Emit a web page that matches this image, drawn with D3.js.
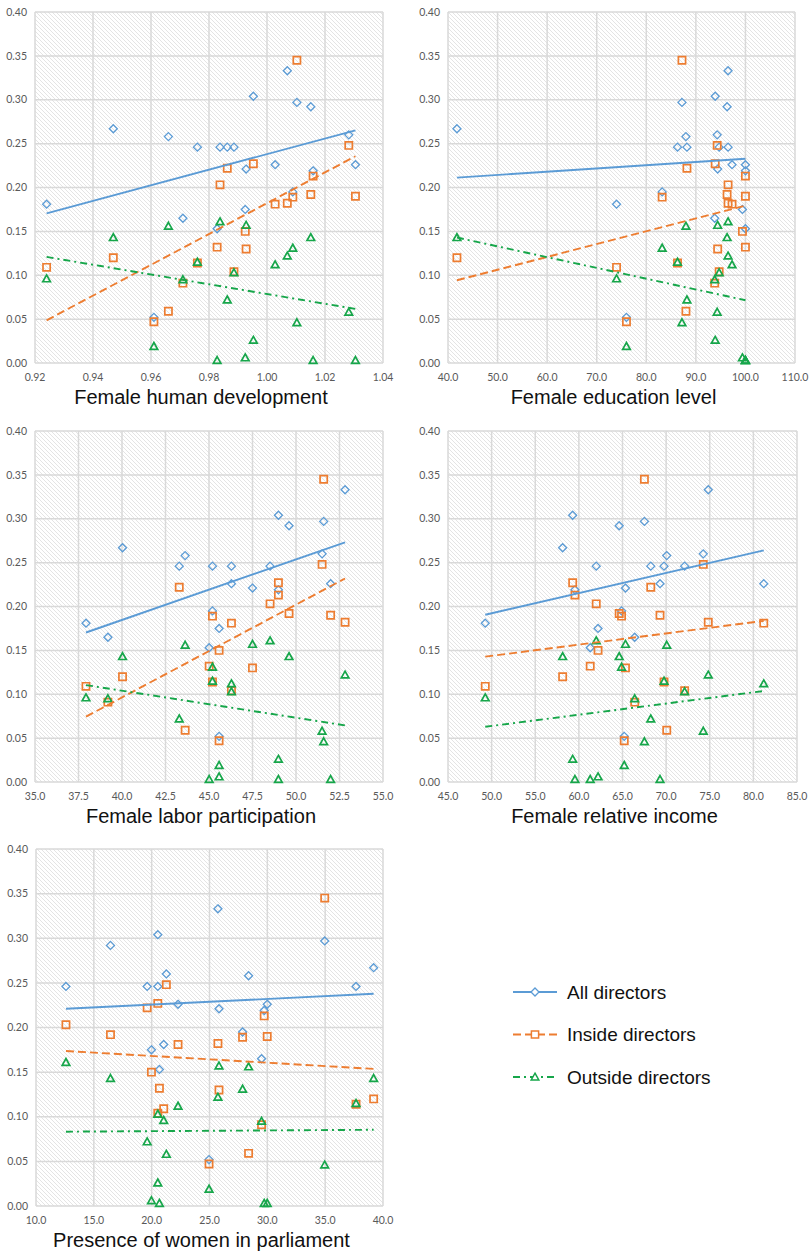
<!DOCTYPE html>
<html>
<head>
<meta charset="utf-8">
<script src="https://cdn.jsdelivr.net/npm/d3@7/dist/d3.min.js"></script>
<style>
  html, body { margin: 0; padding: 0; background: #fff; }
  svg { display: block; }
  .tick-label { font-family: Lato, "Open Sans", sans-serif; font-size: 10.5px; fill: #595959; }
  .axis-title { font-family: "Liberation Sans", Arial, sans-serif; font-size: 20px; fill: #111; }
  .legend-text { font-family: "Liberation Sans", Arial, sans-serif; font-size: 19px; fill: #111; }
</style>
</head>
<body>
<svg id="chart" width="812" height="1258"></svg>
<script>
// Director ratios per country (21 countries)
var allDirectors     = [0.181, 0.267, 0.052, 0.258, 0.165, 0.246, 0.153, 0.246, 0.246, 0.246, 0.175,
                        0.221, 0.304, 0.226, 0.333, 0.195, 0.297, 0.292, 0.219, 0.260, 0.226];
var insideDirectors  = [0.109, 0.120, 0.047, 0.059, 0.091, 0.114, 0.132, 0.203, 0.222, 0.104, 0.150,
                        0.130, 0.227, 0.181, 0.182, 0.189, 0.345, 0.192, 0.213, 0.248, 0.190];
var outsideDirectors = [0.096, 0.143, 0.019, 0.156, 0.095, 0.115, 0.003, 0.161, 0.072, 0.103, 0.006,
                        0.157, 0.026, 0.112, 0.122, 0.131, 0.046, 0.143, 0.003, 0.058, 0.003];

// Country indicators (same country order)
var humanDev   = [0.924, 0.947, 0.961, 0.966, 0.971, 0.976, 0.9828, 0.9838, 0.9863, 0.9886, 0.9925,
                  0.9928, 0.9953, 1.0028, 1.007, 1.0089, 1.0103, 1.0151, 1.0159, 1.0282, 1.0305];
var education  = [74.0, 41.8, 76.0, 88.0, 93.8, 86.3, 100.0, 96.5, 88.2, 94.7, 99.4,
                  94.4, 93.9, 97.3, 96.5, 83.2, 87.2, 96.3, 100.0, 94.3, 100.0];
var laborPart  = [37.93, 40.03, 45.58, 43.63, 39.19, 45.2, 45.01, 48.51, 43.29, 46.29, 45.58,
                  47.5, 48.99, 46.29, 52.82, 45.2, 51.59, 49.6, 48.99, 51.5, 51.99];
var relIncome  = [49.27, 58.14, 65.2, 70.07, 66.4, 69.76, 61.3, 61.99, 68.24, 72.12, 62.2,
                  65.34, 59.29, 81.19, 74.83, 64.89, 67.51, 64.62, 59.55, 74.26, 69.3];
var parliament = [21.04, 39.19, 24.96, 28.38, 29.5, 37.67, 20.67, 12.59, 19.61, 20.53, 19.98,
                  25.82, 20.53, 22.28, 25.73, 27.86, 34.96, 16.44, 29.73, 21.27, 29.99];

var yTicks = [0, 0.05, 0.10, 0.15, 0.20, 0.25, 0.30, 0.35, 0.40];
var seriesNames = ["All directors", "Inside directors", "Outside directors"];

var panels = [
  { x: humanDev,   title: "Female human development",        domain: [0.92, 1.04], step: 0.02, fmt: ".2f", box: [35, 383, 12, 363] },
  { x: education,  title: "Female education level",          domain: [40, 110],    step: 10,   fmt: ".1f", box: [448, 795, 12, 363] },
  { x: laborPart,  title: "Female labor participation",      domain: [35, 55],     step: 2.5,  fmt: ".1f", box: [35, 383, 431, 782] },
  { x: relIncome,  title: "Female relative income",          domain: [45, 85],     step: 5,    fmt: ".1f", box: [448, 797, 431, 782] },
  { x: parliament, title: "Presence of women in parliament", domain: [10, 40],     step: 5,    fmt: ".1f", box: [36, 383, 849, 1206] }
];

var series = [
  { name: seriesNames[0], y: allDirectors,     color: "#5b9bd5", dash: null,      shape: "diamond" },
  { name: seriesNames[1], y: insideDirectors,  color: "#ed7d31", dash: "8,4",     shape: "square" },
  { name: seriesNames[2], y: outsideDirectors, color: "#16a64a", dash: "7,4,2,4", shape: "triangle" }
];

var svg = d3.select("#chart");

// hatched plot background
var defs = svg.append("defs");
var pat = defs.append("pattern")
  .attr("id", "hatch").attr("patternUnits", "userSpaceOnUse")
  .attr("width", 4).attr("height", 4);
pat.append("rect").attr("width", 4).attr("height", 4).attr("fill", "#fff");
pat.append("path").attr("d", "M-1,-1 L5,5 M3,-1 L5,1 M-1,3 L1,5")
  .attr("stroke", "#dddddd").attr("stroke-width", 0.8);

function markerPath(shape) {
  if (shape === "diamond") return "M0,-4 L4,0 L0,4 L-4,0Z";
  if (shape === "square") return "M-3.6,-3.6 H3.6 V3.6 H-3.6Z";
  return "M0,-3.8 L3.8,3 L-3.8,3Z";
}

function linearFit(xs, ys) {
  var mx = d3.mean(xs), my = d3.mean(ys);
  var num = 0, den = 0;
  xs.forEach(function (x, i) { num += (x - mx) * (ys[i] - my); den += (x - mx) * (x - mx); });
  var b = num / den;
  return { a: my - b * mx, b: b };
}

function drawPanel(p) {
  var left = p.box[0], right = p.box[1], top = p.box[2], bottom = p.box[3];
  var x = d3.scaleLinear().domain(p.domain).range([left, right]);
  var y = d3.scaleLinear().domain([0, 0.4]).range([bottom, top]);
  var xTicks = d3.range(p.domain[0], p.domain[1] + p.step / 2, p.step);
  var g = svg.append("g");

  g.append("rect")
    .attr("x", left).attr("y", top)
    .attr("width", right - left).attr("height", bottom - top)
    .attr("fill", "url(#hatch)");

  // grid
  g.selectAll(".gx").data(xTicks).join("line")
    .attr("x1", function (d) { return x(d); }).attr("x2", function (d) { return x(d); })
    .attr("y1", top).attr("y2", bottom)
    .attr("stroke", "#d9d9d9").attr("stroke-width", 1.5);
  g.selectAll(".gy").data(yTicks).join("line")
    .attr("x1", left).attr("x2", right)
    .attr("y1", function (d) { return y(d); }).attr("y2", function (d) { return y(d); })
    .attr("stroke", "#d9d9d9").attr("stroke-width", 1.5);

  // tick labels
  var fx = d3.format(p.fmt);
  g.selectAll(".lx").data(xTicks).join("text")
    .attr("class", "tick-label")
    .attr("x", function (d) { return x(d); })
    .attr("y", bottom + 18)
    .attr("text-anchor", "middle")
    .text(function (d) { return fx(d); });
  g.selectAll(".ly").data(yTicks).join("text")
    .attr("class", "tick-label")
    .attr("x", left - 8)
    .attr("y", function (d) { return y(d); })
    .attr("dy", "0.35em")
    .attr("text-anchor", "end")
    .text(function (d) { return d3.format(".2f")(d); });

  g.append("text")
    .attr("class", "axis-title")
    .attr("x", (left + right) / 2 - 8)
    .attr("y", bottom + 41)
    .attr("text-anchor", "middle")
    .text(p.title);

  // markers
  series.forEach(function (s) {
    g.append("g").selectAll("path")
      .data(p.x.map(function (xv, i) { return [xv, s.y[i]]; }))
      .join("path")
      .attr("d", markerPath(s.shape))
      .attr("transform", function (d) { return "translate(" + x(d[0]) + "," + y(d[1]) + ")"; })
      .attr("fill", "none")
      .attr("stroke", s.color)
      .attr("stroke-width", s.shape === "diamond" ? 1.3 : 1.7);
  });

  // linear trendlines
  var xMin = d3.min(p.x), xMax = d3.max(p.x);
  series.forEach(function (s) {
    var fit = linearFit(p.x, s.y);
    g.append("line")
      .attr("x1", x(xMin)).attr("y1", y(fit.a + fit.b * xMin))
      .attr("x2", x(xMax)).attr("y2", y(fit.a + fit.b * xMax))
      .attr("stroke", s.color)
      .attr("stroke-width", 1.9)
      .attr("stroke-dasharray", s.dash);
  });
}

panels.forEach(drawPanel);

// legend
var legend = svg.append("g");
var legendY = d3.scaleLinear().domain([0, 2]).range([992, 1077]);
series.forEach(function (s, i) {
  var ly = legendY(i);
  legend.append("line")
    .attr("x1", 513).attr("x2", 557).attr("y1", ly).attr("y2", ly)
    .attr("stroke", s.color).attr("stroke-width", 1.9)
    .attr("stroke-dasharray", s.dash);
  legend.append("path")
    .attr("d", markerPath(s.shape))
    .attr("transform", "translate(535," + ly + ")")
    .attr("fill", "#fff")
    .attr("stroke", s.color)
    .attr("stroke-width", s.shape === "diamond" ? 1.3 : 1.5);
  legend.append("text")
    .attr("class", "legend-text")
    .attr("x", 567).attr("y", ly)
    .attr("dy", "0.35em")
    .text(s.name);
});
</script>
</body>
</html>
